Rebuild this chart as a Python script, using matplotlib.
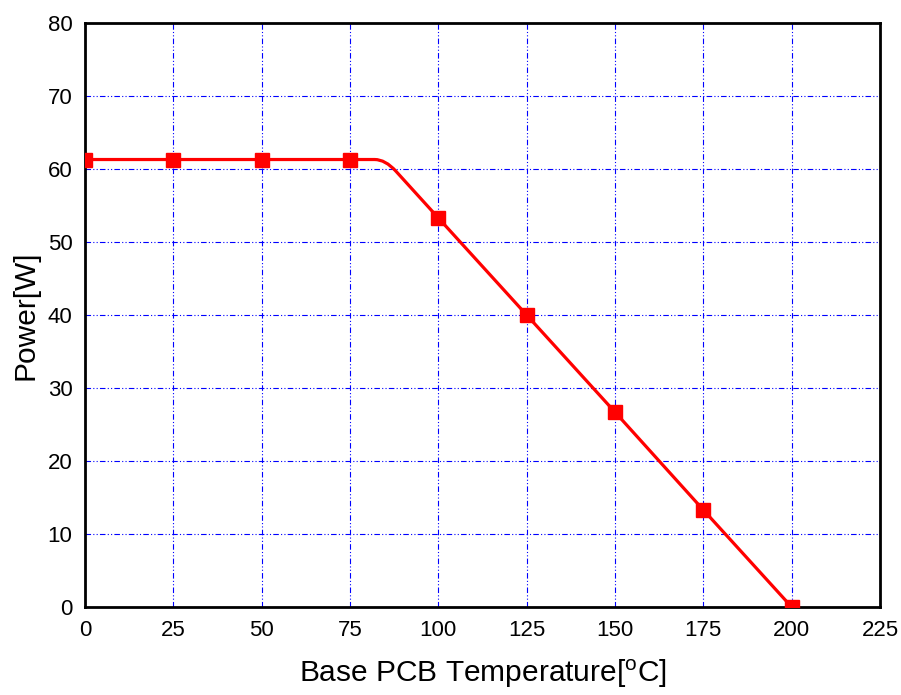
import numpy as np
import matplotlib.pyplot as plt
from matplotlib.path import Path
from matplotlib.patches import PathPatch

plt.rcParams['font.family'] = ['Liberation Sans', 'DejaVu Sans']

# Derating curve: measured points (markers) and the knee where derating starts
temp = [0, 25, 50, 75, 100, 125, 150, 175, 200]
power = [61.3, 61.3, 61.3, 61.3, 53.3, 40.0, 26.7, 13.3, 0.0]
knee_temp = 85
knee_power = 61.3

fig = plt.figure(figsize=(9.01, 6.95), dpi=100)
ax = fig.add_axes([0.0943, 0.1266, 0.8824, 0.8403])

# line: flat part, rounded knee, then linear drop
r = 3.0
verts = [(temp[0], power[0]), (knee_temp - r, knee_power),
         (knee_temp, knee_power),
         (knee_temp + r, knee_power - r * (knee_power - power[4]) / (temp[4] - knee_temp))]
codes = [Path.MOVETO, Path.LINETO, Path.CURVE3, Path.CURVE3]
for t, p in zip(temp[4:], power[4:]):
    verts.append((t, p))
    codes.append(Path.LINETO)
ax.add_patch(PathPatch(Path(verts, codes), facecolor='none', edgecolor='#ff0000',
                       lw=2.3, capstyle='round', joinstyle='round', zorder=3))

ax.plot(temp, power, linestyle='none', marker='s', markersize=9.5,
        color='#ff0000', zorder=4)

ax.set_xlim(0, 225)
ax.set_ylim(0, 80)
ax.set_xticks(np.arange(0, 226, 25))
ax.set_yticks(np.arange(0, 81, 10))
ax.tick_params(length=0, labelsize=16, pad=9)

ax.grid(True, color='#0000ff', linewidth=0.8, dashes=(5, 2, 1, 2, 1, 2))
ax.set_axisbelow(True)
for s in ax.spines.values():
    s.set_linewidth(2)

ax.set_xlabel('Base PCB Temperature[$\\mathregular{^{o}}$C]', fontsize=21.5, labelpad=12)
ax.set_ylabel('Power[W]', fontsize=21.5, labelpad=6)

fig.savefig('out.png', dpi=100)
